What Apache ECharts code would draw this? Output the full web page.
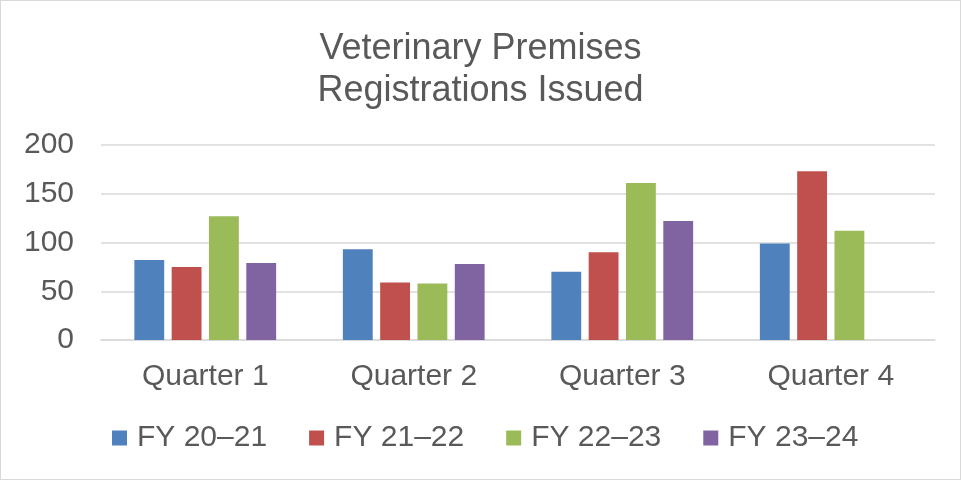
<!DOCTYPE html>
<html>
<head>
  <meta charset='utf-8'>
  <script src="https://cdn.jsdelivr.net/npm/echarts@6/dist/echarts.min.js"></script>
  <title>Veterinary Premises</title>
  <style>
    html, body { margin: 0; padding: 0; background: #fff; }
    #chart { width: 961px; height: 480px; box-sizing: border-box; border: 1px solid #d9d9d9; }
  </style>
</head>
<body>
<div id="chart"></div>
<script type="text/javascript">
  // 数据
  var quarters = ['Quarter 1', 'Quarter 2', 'Quarter 3', 'Quarter 4'];
  var fy2021 = [82, 93, 70, 99];
  var fy2122 = [75, 59, 90, 173];
  var fy2223 = [127, 58, 161, 112];
  var fy2324 = [79, 78, 122, null];
  var yTicks = [0, 50, 100, 150, 200];

  var font = '"Liberation Sans", Arial, sans-serif';
  var grey = '#595959';

  var myChart = echarts.init(document.getElementById('chart'));

  function bar(name, data, color) {
    return {
      name: name,
      type: 'bar',
      data: data,
      barGap: '25%',
      barCategoryGap: '32%',
      itemStyle: { color: color }
    };
  }

  var option = {
    backgroundColor: '#ffffff',
    animation: false,
    title: {
      text: 'Veterinary Premises\nRegistrations Issued',
      left: 'center',
      top: 22,
      textStyle: { fontFamily: font, fontSize: 36, fontWeight: 'normal', color: grey, lineHeight: 42 }
    },
    grid: { left: 100, right: 25, top: 144, bottom: 139, containLabel: false },
    legend: {
      top: 422,
      left: 111,
      padding: 0,
      itemWidth: 15,
      itemHeight: 15,
      itemGap: 42,
      icon: 'rect',
      textStyle: { fontFamily: font, fontSize: 30, color: grey, padding: [0, 0, 0, 5] },
      data: ['FY 20\u201321', 'FY 21\u201322', 'FY 22\u201323', 'FY 23\u201324']
    },
    xAxis: {
      type: 'category',
      data: quarters,
      axisLine: { lineStyle: { color: '#d9d9d9', width: 1.5 } },
      axisTick: { show: false },
      axisLabel: { fontFamily: font, fontSize: 30, color: grey, margin: 22 }
    },
    yAxis: {
      type: 'value',
      min: yTicks[0],
      max: yTicks[yTicks.length - 1],
      interval: 50,
      axisLine: { show: false },
      axisTick: { show: false },
      splitLine: { lineStyle: { color: '#d9d9d9', width: 1.5 } },
      axisLabel: { fontFamily: font, fontSize: 30, color: grey, margin: 27 }
    },
    series: [
      bar('FY 20\u201321', fy2021, '#4f81bd'),
      bar('FY 21\u201322', fy2122, '#c0504d'),
      bar('FY 22\u201323', fy2223, '#9bbb59'),
      bar('FY 23\u201324', fy2324, '#8064a2')
    ]
  };
  myChart.setOption(option);
</script>
</body>
</html>
